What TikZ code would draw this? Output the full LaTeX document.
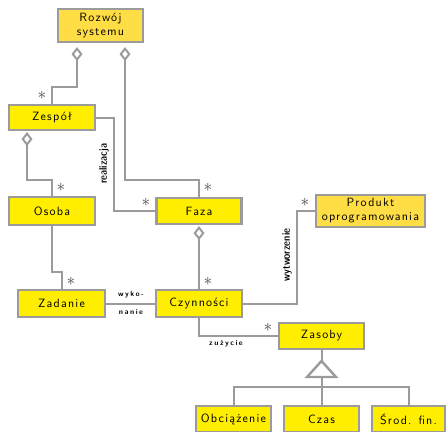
\documentclass[tikz,border=0pt]{standalone}
\usepackage{fontspec}
\newfontfamily\boxfont{lmsans10-regular.otf}[LetterSpace=10]
\newfontfamily\tagfont{lmsans10-bold.otf}[LetterSpace=20]
\newfontfamily\vtagfont{lmsansdemicond10-regular.otf}
\usetikzlibrary{arrows.meta}
\definecolor{boxyellow}{RGB}{255,238,0}
\definecolor{boxgold}{RGB}{255,221,68}
\definecolor{linegray}{RGB}{155,155,155}
\definecolor{stargray}{RGB}{68,68,68}
\begin{document}
\begin{tikzpicture}[x=1pt,y=-1pt,
  box/.style={draw=linegray, line width=2.2pt, fill=boxyellow, inner sep=0pt,
    align=center, font=\boxfont\fontsize{12}{14}\selectfont},
  conn/.style={draw=linegray, line width=2pt},
  agg/.style={{Diamond[open,fill=white,length=14pt,width=11pt]}-},
  mult/.style={text=stargray, inner sep=0pt, font=\fontsize{16}{16}\selectfont},
  tag/.style={inner sep=0pt, font=\tagfont\fontsize{7.5}{8}\selectfont},
  vtag/.style={inner sep=0pt, rotate=90, font=\vtagfont\fontsize{11}{12}\selectfont}]
\useasboundingbox (0,0) rectangle (446,431);

% classes
\node[box, fill=boxgold, minimum width=85, minimum height=33] (rozwoj) at (100.5,25.5) {Rozwój\\systemu};
\node[box, minimum width=86, minimum height=25] (zespol) at (52,117.5) {Zespół};
\node[box, minimum width=86, minimum height=28] (osoba) at (52,211) {Osoba};
\node[box, minimum width=85, minimum height=26] (faza) at (199,211) {Faza};
\node[box, fill=boxgold, minimum width=109, minimum height=32] (produkt) at (370.5,211) {Produkt\\oprogramowania};
\node[box, minimum width=87, minimum height=27] (zadanie) at (61.5,303.5) {Zadanie};
\node[box, minimum width=86, minimum height=27] (czynnosci) at (199,303.5) {Czynności};
\node[box, minimum width=85, minimum height=26] (zasoby) at (321.5,336) {Zasoby};
\node[box, minimum width=75, minimum height=26] (obc) at (233.5,419) {Obciążenie};
\node[box, minimum width=75, minimum height=26] (czas) at (321.5,419) {Czas};
\node[box, minimum width=73, minimum height=26] (srod) at (408.5,419) {Środ. fin.};

% bend points
\coordinate (r1) at (77,87);
\coordinate (r2) at (125,180);
\coordinate (z1) at (114,0);
\coordinate (o1) at (27,180);
\coordinate (o2) at (52,272);
\coordinate (p1) at (297,0);
\coordinate (apex) at (321.5,361);
\coordinate (base) at (321.5,377);
\coordinate (bar) at (0,387);

% aggregations
\draw[conn, agg, shorten <=4pt] (rozwoj.south -| r1) -- (r1) -| (zespol.north);
\draw[conn, agg, shorten <=4pt] (rozwoj.south -| r2) -- (r2) -| (faza.north);
\draw[conn, agg, shorten <=1pt] (zespol.south -| o1) -- (o1) -| (osoba.north);
\draw[conn, agg, shorten <=1pt] (faza.south) -- (czynnosci.north);

% associations
\draw[conn] (zespol.east) -- (zespol.east -| z1) |- (faza.west);
\draw[conn] (osoba.south) -- (o2) -| (zadanie.north);
\draw[conn] (zadanie.east) -- (czynnosci.west);
\draw[conn] (czynnosci.east) -- (czynnosci.east -| p1) |- (produkt.west);
\draw[conn] (czynnosci.south) |- (zasoby.west);

% generalization
\draw[conn] (zasoby.south) -- (apex);
\draw[conn, line width=2.4pt, fill=white] (apex) -- ++(14.5,16) -- ++(-29,0) -- cycle;
\draw[conn] (base) -- (bar -| base);
\draw[conn] (obc.north) -- (bar -| obc) -- (bar -| srod) -- (srod.north);
\draw[conn] (czas.north) -- (bar -| czas);

% multiplicities
\node[mult] (m1) at (42,95) {$\ast$};
\node[mult] (m2) at (61,187) {$\ast$};
\node[mult] (m3) at (146,202) {$\ast$};
\node[mult] (m4) at (208,187) {$\ast$};
\node[mult] (m5) at (305,202) {$\ast$};
\node[mult] (m6) at (71,281) {$\ast$};
\node[mult] (m7) at (208,281) {$\ast$};
\node[mult] (m8) at (268,327) {$\ast$};

% association names
\node[tag] (l1) at (131,295) {wyko-};
\node[tag] (l2) at (131,312) {nanie};
\node[tag] (l3) at (226,344) {zużycie};
\node[vtag] (l4) at (104,164) {realizacja};
\node[vtag] (l5) at (287,255) {wytworzenie};
\end{tikzpicture}
\end{document}
